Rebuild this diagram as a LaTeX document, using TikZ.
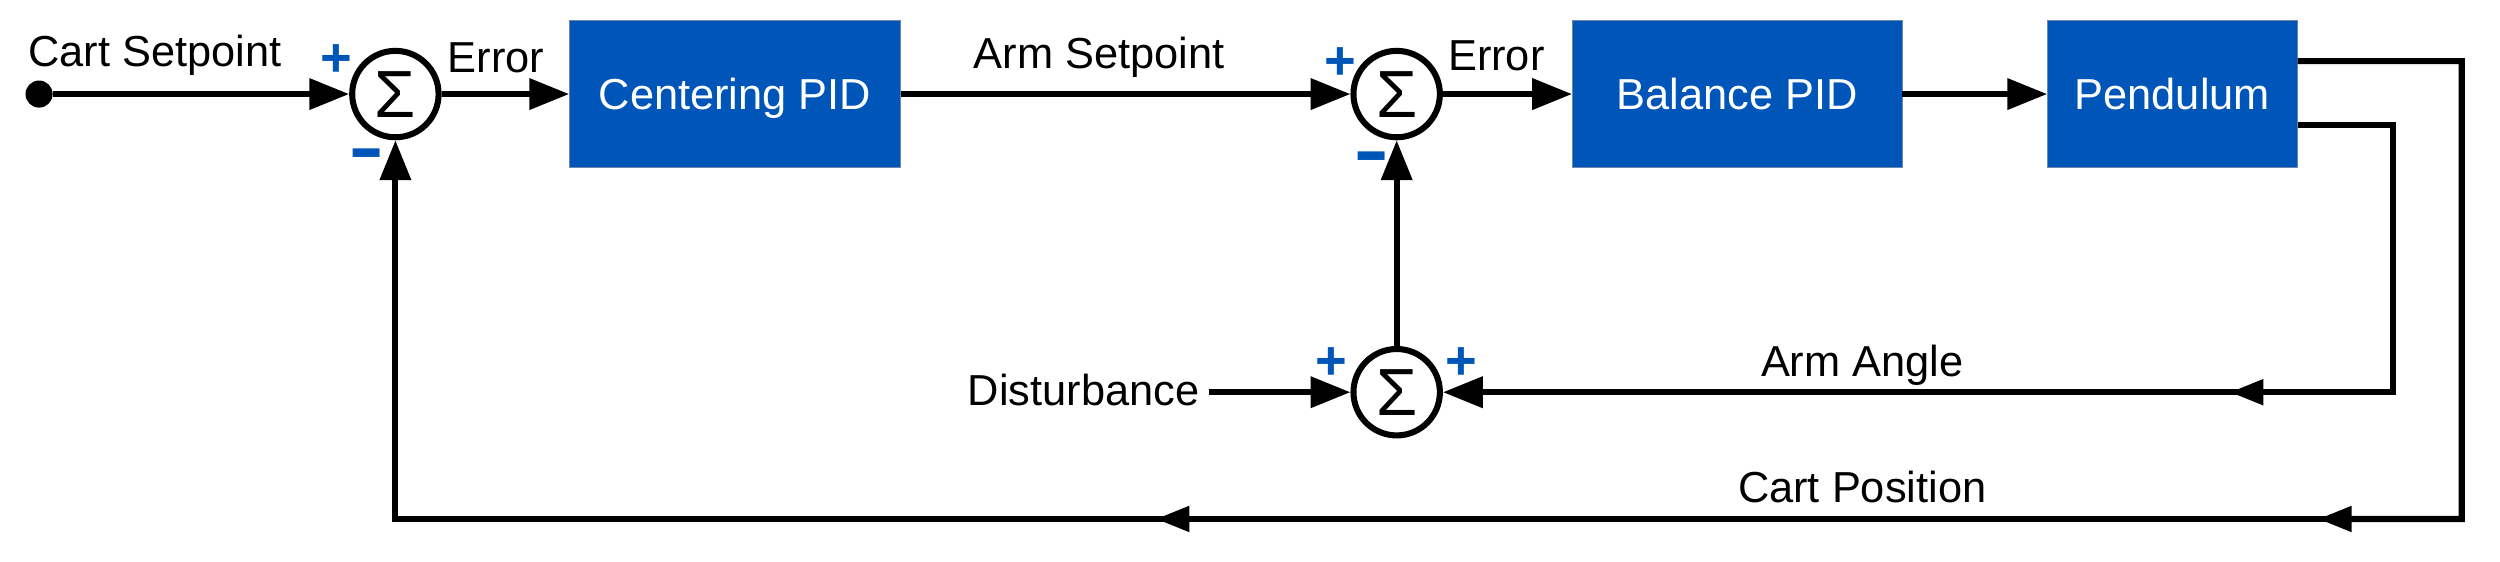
\documentclass[tikz,border=0pt]{standalone}
\usepackage{fontspec}
\setmainfont{Liberation Sans}
\usetikzlibrary{arrows.meta,calc}
\definecolor{boxblue}{RGB}{0,85,184}
\definecolor{boxedge}{RGB}{110,135,175}
\begin{document}
\begin{tikzpicture}[x=0.1mm,y=-0.1mm,
  every node/.style={inner sep=0pt, outer sep=0pt},
  lbl/.style={font=\fontsize{7.74pt}{9pt}\selectfont, anchor=base},
  blk/.style={fill=boxblue, draw=boxedge, line width=0.05mm, text=white,
    font=\fontsize{7.74pt}{9pt}\selectfont, minimum height=9.2mm,
    text height=1.95mm, text depth=0pt},
  sumnode/.style={circle, draw, line width=0.38mm, minimum size=5.42mm,
    outer sep=0.19mm, font=\fontsize{11.9pt}{12pt}\selectfont},
  sgn/.style={text=boxblue, anchor=base, font=\fontsize{9.7pt}{10pt}\selectfont\bfseries},
  sgnm/.style={sgn, yscale=1.6},
  wire/.style={line width=0.38mm},
  endarr/.style={-{Triangle[length=2.5mm,width=1.9mm]}},
  midarr/.style={-{Triangle[length=2.1mm,width=1.55mm]}},
]
\useasboundingbox (0,0) rectangle (1568,352);

% blocks
\node[blk, minimum width=20.8mm] (cent) at (461,59) {Centering PID};
\node[blk, minimum width=20.7mm] (bal) at (1089.5,59) {Balance PID};
\node[blk, minimum width=15.7mm] (pend) at (1362.5,59) {Pendulum};

% summing junctions
\node[sumnode] (s1) at (248,59) {Σ};
\node[sumnode] (s2) at (876,59) {Σ};
\node[sumnode] (s3) at (876,246) {Σ};

% start dot
\node[circle, fill, minimum size=1.7mm] (start) at (24.5,59) {};

% labels
\node[lbl] (tcs) at (97.2,41.8) {Cart Setpoint};
\node[lbl] (te1) at (311,45.5) {Error};
\node[lbl] (tas) at (689.3,42.9) {Arm Setpoint};
\node[lbl] (te2) at (938.5,44.5) {Error};
\node[lbl] (tdist) at (679.7,254.6) {Disturbance};
\node[lbl] (taa) at (1168,236) {Arm Angle};
\node[lbl] (tcp) at (1168,315) {Cart Position};

% signs
\node[sgn] (p1) at (211,48) {+};
\node[sgnm] (m1) at (230,110.6) {–};
\node[sgn] (p2) at (840.5,49.6) {+};
\node[sgnm] (m2) at (860,112.6) {–};
\node[sgn] (p3) at (835,238) {+};
\node[sgn] (p4) at (916.5,238) {+};

% coordinates
\coordinate (dstart) at (758,246);
\coordinate (aa0) at ($(pend.east)+(0,19.4)$);
\coordinate (aa1) at (1501,78.4);
\coordinate (aa2) at (1501,246);
\coordinate (aam) at (1398.6,246);
\coordinate (aamb) at (1412,246);
\coordinate (cp0) at ($(pend.east)+(0,-20.7)$);
\coordinate (cp1) at (1544,38.3);
\coordinate (cp2) at (1544,325.5);
\coordinate (cpm1) at (1454,325.5);
\coordinate (cpm1b) at (1467,325.5);
\coordinate (cpm2) at (725,325.5);
\coordinate (cpm2b) at (738,325.5);
\coordinate (cp3) at (248,325.5);

% forward path
\draw[wire, endarr] (start.east) -- (s1.west);
\draw[wire, endarr] (s1.east) -- (cent.west);
\draw[wire, endarr] (cent.east) -- (s2.west);
\draw[wire, endarr] (s2.east) -- (bal.west);
\draw[wire, endarr] (bal.east) -- (pend.west);
\draw[wire, endarr] (s3.north) -- (s2.south);
\draw[wire, endarr] (dstart) -- (s3.west);

% arm angle feedback
\draw[wire, midarr] (aa0) -- (aa1) -- (aa2) -- (aam);
\draw[wire, endarr] (aamb) -- (s3.east);

% cart position feedback
\draw[wire, midarr] (cp0) -- (cp1) -- (cp2) -- (cpm1);
\draw[wire, midarr] (cpm1b) -- (cpm2);
\draw[wire, endarr] (cpm2b) -- (cp3) -- (s1.south);
\end{tikzpicture}
\end{document}
